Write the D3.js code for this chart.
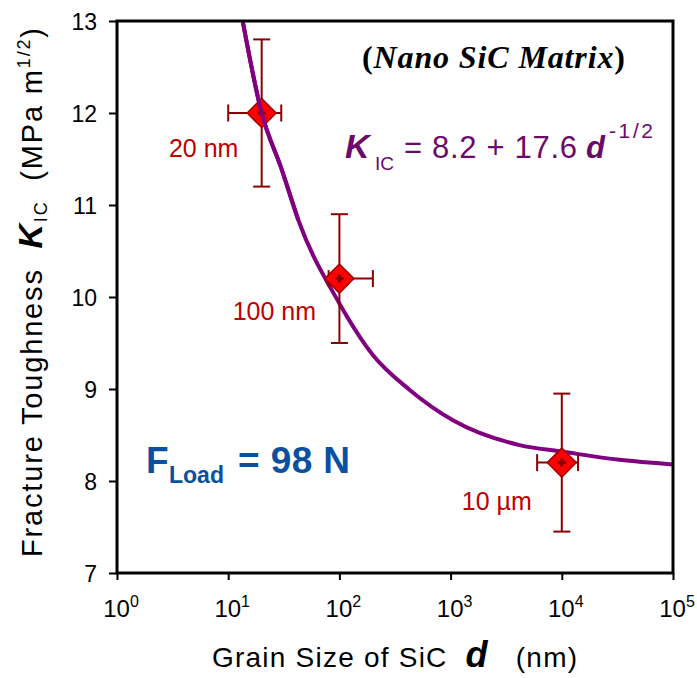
<!DOCTYPE html>
<html><head><meta charset="utf-8">
<script src="https://cdn.jsdelivr.net/npm/d3@7"></script>
<style>body{margin:0;background:#fff}svg{display:block}</style>
</head><body>
<script>
// ---- data ----
const grainSize = [20, 100, 10000];          // nm
const kic       = [12.0, 10.2, 8.2];
const kicLow    = [11.2, 9.5, 7.45];
const kicHigh   = [12.8, 10.9, 8.95];
const sizeLow   = [10, 80, 6000];
const sizeHigh  = [30, 200, 14000];
const pointLabels = ["20 nm", "100 nm", "10 \u00b5m"];
// fitted curve
const curveD = [13.5, 20, 30, 42.6, 100, 200, 429, 1050, 4170, 10000, 33000, 100000];
const curveK = [13.0, 12.0, 11.4, 10.84, 9.93, 9.37, 8.99, 8.66, 8.39, 8.32, 8.23, 8.18];
const xTickExp = [0, 1, 2, 3, 4, 5];
const yTicks = [7, 8, 9, 10, 11, 12, 13];

const W = 697, H = 678;
const L = 117, R = 673, T = 21, B = 573;
const svg = d3.select("body").append("svg").attr("width", W).attr("height", H);
const x = d3.scaleLog().domain([1, 1e5]).range([L, R]);
const y = d3.scaleLinear().domain([7, 13]).range([B, T]);
const font = "'Liberation Sans', Arial, sans-serif";
const line = d3.line().x(d => x(d[0])).y(d => y(d[1])).curve(d3.curveMonotoneX);
const curvePts = curveD.map((d, i) => [d, curveK[i]]);

// curve
svg.append("path").datum(curvePts)
  .attr("d", line).attr("fill", "none").attr("stroke", "#800080").attr("stroke-width", 4);

// error bars
const g = svg.append("g").attr("stroke", "#8b0000").attr("stroke-width", 2).attr("fill", "none");
const cap = 8.5;
grainSize.forEach((d, i) => {
  const cx = x(d), cy = y(kic[i]);
  g.append("line").attr("x1", cx).attr("x2", cx).attr("y1", y(kicLow[i])).attr("y2", y(kicHigh[i]));
  g.append("line").attr("x1", cx - cap).attr("x2", cx + cap).attr("y1", y(kicLow[i])).attr("y2", y(kicLow[i]));
  g.append("line").attr("x1", cx - cap).attr("x2", cx + cap).attr("y1", y(kicHigh[i])).attr("y2", y(kicHigh[i]));
  g.append("line").attr("x1", x(sizeLow[i])).attr("x2", x(sizeHigh[i])).attr("y1", cy).attr("y2", cy);
  g.append("line").attr("x1", x(sizeLow[i])).attr("x2", x(sizeLow[i])).attr("y1", cy - cap).attr("y2", cy + cap);
  g.append("line").attr("x1", x(sizeHigh[i])).attr("x2", x(sizeHigh[i])).attr("y1", cy - cap).attr("y2", cy + cap);
});
// diamonds
grainSize.forEach((d, i) => {
  const cx = x(d), cy = y(kic[i]), s = 14.5;
  svg.append("path").attr("d", `M${cx},${cy - s}L${cx + s},${cy}L${cx},${cy + s}L${cx - s},${cy}Z`)
    .attr("fill", "#ff0000").attr("stroke", "#a00000").attr("stroke-width", 1.5);
  svg.append("path").attr("d", `M${cx - 4},${cy}H${cx + 4}M${cx},${cy - 4}V${cy + 4}`)
    .attr("stroke", "#8b0000").attr("stroke-width", 3);
});
// curve passes over the first marker in the reference
svg.append("path").datum(curvePts.filter(p => p[0] <= 45))
  .attr("d", line).attr("fill", "none").attr("stroke", "#800080").attr("stroke-width", 4);

// point labels
const lblPos = [[-58, 44], [-65, 41.5], [-65, 47.5]];
grainSize.forEach((d, i) => {
  svg.append("text").attr("x", x(d) + lblPos[i][0]).attr("y", y(kic[i]) + lblPos[i][1])
    .attr("text-anchor", "middle").attr("font-family", font).attr("font-size", 25)
    .attr("fill", "#c00000").text(pointLabels[i]);
});

// frame
svg.append("rect").attr("x", L).attr("y", T).attr("width", R - L).attr("height", B - T)
  .attr("fill", "none").attr("stroke", "#000").attr("stroke-width", 3);

// y axis
const yAxis = svg.append("g").attr("transform", `translate(${L},0)`)
  .call(d3.axisLeft(y).tickValues(yTicks).tickSize(8).tickPadding(12).tickFormat(d3.format("d")));
yAxis.select(".domain").remove();
yAxis.selectAll("line").attr("stroke", "#000").attr("stroke-width", 2);
yAxis.selectAll("text").attr("font-family", font).attr("font-size", 23).attr("fill", "#000").attr("dy", "0.36em");

// x axis
const xAxis = svg.append("g").attr("transform", `translate(0,${B})`)
  .call(d3.axisBottom(x).tickValues(xTickExp.map(e => Math.pow(10, e))).tickSize(7).tickFormat(""));
xAxis.select(".domain").remove();
xAxis.selectAll("line").attr("stroke", "#000").attr("stroke-width", 2);
xTickExp.forEach(e => {
  const t = svg.append("text").attr("x", x(Math.pow(10, e)) + 4).attr("y", 617)
    .attr("text-anchor", "middle").attr("font-family", font).attr("font-size", 24).attr("fill", "#000");
  t.append("tspan").text("10");
  t.append("tspan").attr("dy", -10).attr("font-size", 16).text(e);
});

// x label
const xl = svg.append("text").attr("x", 212).attr("y", 667)
  .attr("font-family", font).attr("font-size", 28).attr("fill", "#000").attr("xml:space", "preserve")
  .attr("textLength", 365).attr("lengthAdjust", "spacing");
xl.append("tspan").text("Grain Size of SiC  ");
xl.append("tspan").attr("font-weight", "bold").attr("font-style", "italic").attr("font-size", 36).text("d");
xl.append("tspan").text("   (nm)");

// y label
const yl = svg.append("text").attr("transform", "translate(42,557) rotate(-90)")
  .attr("font-family", font).attr("font-size", 29).attr("fill", "#000").attr("xml:space", "preserve")
  .attr("textLength", 529).attr("lengthAdjust", "spacing");
yl.append("tspan").text("Fracture Toughness  ");
yl.append("tspan").attr("font-weight", "bold").attr("font-style", "italic").attr("font-size", 34).text("K");
yl.append("tspan").attr("font-size", 18).attr("dy", 5).text("IC");
yl.append("tspan").attr("dy", -5).text("  (MPa m");
yl.append("tspan").attr("font-size", 18).attr("dy", -12).text("1/2");
yl.append("tspan").attr("dy", 12).text(")");

// title
const tt = svg.append("text").attr("x", 362).attr("y", 68)
  .attr("font-family", "'Liberation Serif', 'Times New Roman', serif").attr("font-size", 32)
  .attr("font-weight", "bold").attr("fill", "#000").attr("textLength", 263).attr("lengthAdjust", "spacing");
tt.append("tspan").text("(");
tt.append("tspan").attr("font-style", "italic").text("Nano SiC Matrix");
tt.append("tspan").text(")");

// equation
const eqc = "#6a0a6a";
const eq = svg.append("text").attr("y", 158).attr("font-family", font)
  .attr("font-size", 31).attr("fill", eqc);
eq.append("tspan").attr("x", 345).attr("font-weight", "bold").attr("font-style", "italic").attr("font-size", 34).text("K");
eq.append("tspan").attr("x", 375).attr("font-size", 19).attr("dy", 12).text("IC");
eq.append("tspan").attr("x", 404).attr("dy", -12).attr("textLength", 173).attr("lengthAdjust", "spacing").text("= 8.2 + 17.6");
eq.append("tspan").attr("x", 586).attr("font-weight", "bold").attr("font-style", "italic").text("d");
eq.append("tspan").attr("x", 609).attr("font-size", 21).attr("dy", -20).attr("textLength", 44).attr("lengthAdjust", "spacing").text("-1/2");

// F_Load
const fl = svg.append("text").attr("y", 473).attr("font-family", font)
  .attr("font-size", 37).attr("font-weight", "bold").attr("fill", "#0a50a0");
fl.append("tspan").attr("x", 146).text("F");
fl.append("tspan").attr("x", 169).attr("font-size", 23).attr("dy", 10).text("Load");
fl.append("tspan").attr("x", 238).attr("dy", -10).attr("textLength", 112).attr("lengthAdjust", "spacing").text("= 98 N");
</script>
</body></html>
